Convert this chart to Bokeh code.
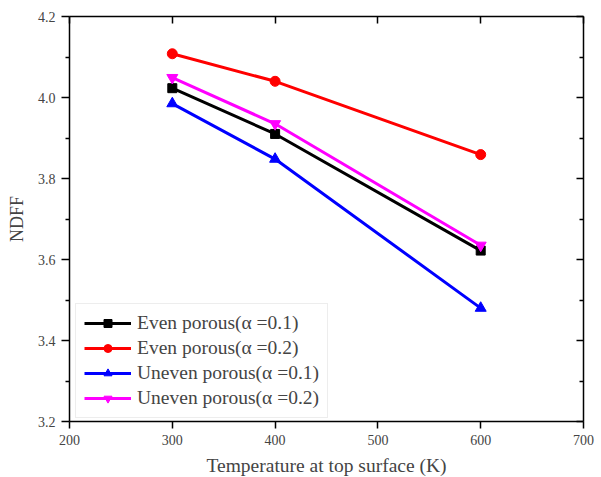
from bokeh.plotting import figure
from bokeh.models import LinearAxis, Range1d, FixedTicker, Legend, PrintfTickFormatter
from bokeh.embed import file_html
from bokeh.resources import INLINE

# Temperature at the top surface (K)
temperature = [300, 400, 600]

# NDFF for each porosity case
even_a01 = [4.023, 3.910, 3.622]
even_a02 = [4.108, 4.040, 3.859]
uneven_a01 = [3.985, 3.848, 3.480]
uneven_a02 = [4.049, 3.935, 3.635]

series_labels = [
    "Even porous(α =0.1)",
    "Even porous(α =0.2)",
    "Uneven porous(α =0.1)",
    "Uneven porous(α =0.2)",
]

x_ticks = [200, 300, 400, 500, 600, 700]
y_ticks = [3.2, 3.4, 3.6, 3.8, 4.0, 4.2]
y_minor = [3.3, 3.5, 3.7, 3.9, 4.1]

FONT = "Liberation Serif"

p = figure(
    width=601, height=477,
    frame_width=514, frame_height=405,
    min_border_left=69, min_border_right=18,
    min_border_top=16, min_border_bottom=56,
    x_range=Range1d(200, 700), y_range=Range1d(3.2, 4.2),
    output_backend="svg", toolbar_location=None,
    x_axis_label="Temperature at top surface (K)",
    y_axis_label="NDFF",
)
p.outline_line_color = None
p.xgrid.visible = False
p.ygrid.visible = False
p.background_fill_color = "white"
p.border_fill_color = "white"

# bottom axis
xa = p.xaxis[0]
xa.ticker = FixedTicker(ticks=x_ticks)
xa.axis_line_width = 1.5
xa.major_tick_line_width = 1.5
xa.major_tick_in = 0
xa.major_tick_out = 7
xa.minor_tick_line_color = None
xa.major_label_text_font = FONT
xa.major_label_text_font_size = "14px"
xa.major_label_standoff = 6
xa.axis_label_text_font = FONT
xa.axis_label_text_font_size = "19.5px"
xa.axis_label_text_font_style = "normal"
xa.axis_label_standoff = 7

# left axis
ya = p.yaxis[0]
ya.ticker = FixedTicker(ticks=y_ticks, minor_ticks=y_minor)
ya.formatter = PrintfTickFormatter(format="%.1f")
ya.axis_line_width = 1.5
ya.major_tick_line_width = 1.5
ya.minor_tick_line_width = 1.5
ya.major_tick_in = 0
ya.major_tick_out = 8
ya.minor_tick_in = 0
ya.minor_tick_out = 4
ya.major_label_text_font = FONT
ya.major_label_text_font_size = "14px"
ya.major_label_standoff = 6
ya.axis_label_text_font = FONT
ya.axis_label_text_font_size = "18px"
ya.axis_label_text_font_style = "normal"
ya.axis_label_standoff = 8

# mirrored axes on top and right, ticks pointing inward, no labels
top = LinearAxis(ticker=FixedTicker(ticks=x_ticks))
top.axis_line_width = 1.5
top.major_tick_line_width = 1.5
top.major_tick_in = 7
top.major_tick_out = 0
top.minor_tick_line_color = None
top.major_label_text_color = None
top.major_label_text_font_size = "0px"
top.major_label_standoff = 0
p.add_layout(top, "above")

right = LinearAxis(ticker=FixedTicker(ticks=y_ticks, minor_ticks=y_minor))
right.axis_line_width = 1.5
right.major_tick_line_width = 1.5
right.minor_tick_line_width = 1.5
right.major_tick_in = 7
right.major_tick_out = 0
right.minor_tick_in = 4
right.minor_tick_out = 0
right.major_label_text_color = None
right.major_label_text_font_size = "0px"
right.major_label_standoff = 0
p.add_layout(right, "right")

styles = [
    (even_a01, "black", "square", 9),
    (even_a02, "red", "circle", 10),
    (uneven_a01, "blue", "triangle", 11),
    (uneven_a02, "magenta", "inverted_triangle", 11),
]

legend_items = []
for (ys, color, marker, size), label in zip(styles, series_labels):
    ln = p.line(temperature, ys, line_color=color, line_width=3)
    sc = p.scatter(temperature, ys, marker=marker, size=size,
                   fill_color=color, line_color=color)
    legend_items.append((label, [ln, sc]))

legend = Legend(items=legend_items, location=(6, 3))
legend.label_text_font = FONT
legend.label_text_font_size = "19.5px"
legend.glyph_width = 47
legend.glyph_height = 20
legend.label_height = 20
legend.label_standoff = 6
legend.spacing = 3
legend.padding = 8
legend.margin = 0
legend.border_line_color = "#dcdcdc"
legend.border_line_width = 1
legend.background_fill_alpha = 1.0
p.add_layout(legend, "center")

open("out.html", "w").write(file_html(p, INLINE))
